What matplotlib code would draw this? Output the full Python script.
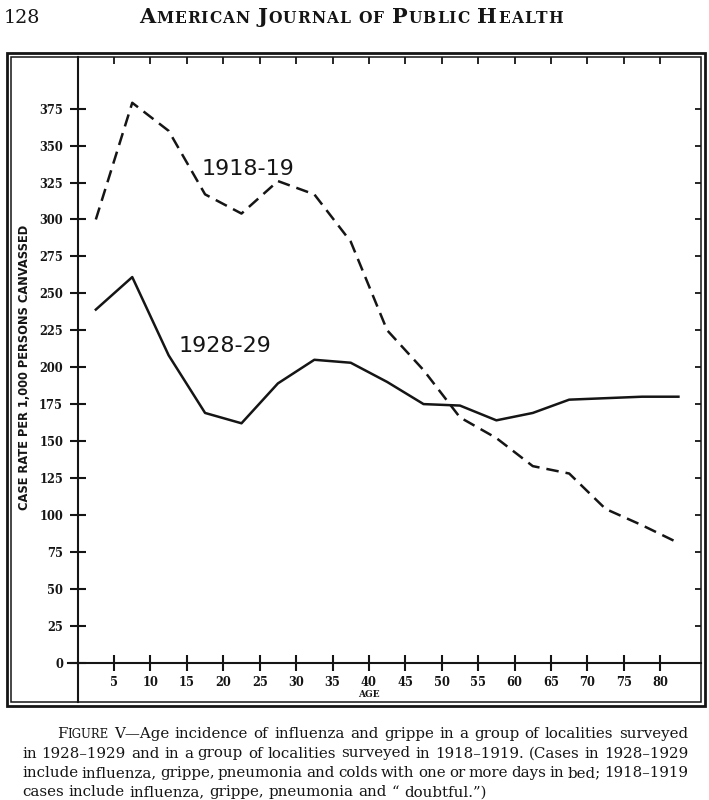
import matplotlib
matplotlib.use('Agg')
import matplotlib.pyplot as plt
from matplotlib.patches import Rectangle

# ---------------- data ----------------
ages = [2.5, 7.5, 12.5, 17.5, 22.5, 27.5, 32.5, 37.5, 42.5, 47.5,
        52.5, 57.5, 62.5, 67.5, 72.5, 77.5, 82.5]
rate_1918_19 = [300, 379, 360, 317, 304, 326, 317, 285, 225, 198,
                166, 152, 133, 128, 104, 93, 81]
rate_1928_29 = [239, 261, 208, 169, 162, 189, 205, 203, 190, 175,
                174, 164, 169, 178, 179, 180, 180]
series_labels = ['1918-19', '1928-29']
xticks = [5, 10, 15, 20, 25, 30, 35, 40, 45, 50, 55, 60, 65, 70, 75, 80]
xtick_labels = [str(v) for v in xticks]
yticks = [0, 25, 50, 75, 100, 125, 150, 175, 200, 225, 250, 275, 300, 325, 350, 375]
ytick_labels = [str(v) for v in yticks]
ylabel = 'CASE RATE PER 1,000 PERSONS CANVASSED'
xlabel = 'AGE'
page_number = '128'
header_words = ['AMERICAN', 'JOURNAL', 'OF', 'PUBLIC', 'HEALTH']
caption_lines = [
    'FIGURE V\u2014Age incidence of influenza and grippe in a group of localities surveyed',
    'in 1928\u20131929 and in a group of localities surveyed in 1918\u20131919.  (Cases in 1928\u20131929',
    'include influenza, grippe, pneumonia and colds with one or more days in bed; 1918\u20131919',
    'cases include influenza, grippe, pneumonia and \u201c doubtful.\u201d)',
]

# ---------------- figure ----------------
W, H, DPI = 709, 800, 100
INK = '#151515'
fig = plt.figure(figsize=(W / DPI, H / DPI), dpi=DPI)
fig.patch.set_facecolor('white')

ax = fig.add_axes([11 / W, 1 - 702 / H, 690 / W, 645 / H])
ax.set_xlim(-9.15, 85.6)
ax.set_ylim(-26.7, 410)
ax.set_facecolor('white')

ax.plot(ages, rate_1928_29, color=INK, lw=1.8)
ax.plot(ages, rate_1918_19, color=INK, lw=1.8, dashes=(5, 2.8))

ax.text(23.4, 330, series_labels[0], fontsize=16, family='DejaVu Sans',
        ha='center', va='baseline', color=INK)
ax.text(20.2, 210, series_labels[1], fontsize=16, family='DejaVu Sans',
        ha='center', va='baseline', color=INK)

for s in ['top', 'right']:
    ax.spines[s].set_visible(False)
ax.spines['left'].set_position(('data', 0))
ax.spines['bottom'].set_position(('data', 0))
ax.spines['bottom'].set_bounds(-1.3, 85.6)
for s in ['left', 'bottom']:
    ax.spines[s].set_linewidth(1.5)
    ax.spines[s].set_color(INK)

ax.set_xticks(xticks)
ax.set_xticklabels(xtick_labels, fontweight='bold', family='DejaVu Serif', fontsize=8.3)
ax.set_yticks(yticks)
ax.set_yticklabels(ytick_labels, fontweight='bold', family='DejaVu Serif', fontsize=8.3)
ax.tick_params(axis='both', direction='inout', length=11, width=1.5, color=INK,
               labelcolor=INK)
ax.tick_params(axis='y', pad=5)
ax.tick_params(axis='x', pad=4.5)

secx = ax.secondary_xaxis('top')
secx.set_xticks(xticks)
secx.tick_params(direction='in', length=5, width=1.3, color=INK, labeltop=False)
for sp in secx.spines.values():
    sp.set_visible(False)
secy = ax.secondary_yaxis('right')
secy.set_yticks(yticks[1:])
secy.tick_params(direction='in', length=4.5, width=1.3, color=INK, labelright=False)
for sp in secy.spines.values():
    sp.set_visible(False)

ax.text(-7.36, 200, ylabel, rotation=90, ha='center', va='center', fontsize=8.3,
        fontweight='bold', family='DejaVu Sans', color=INK)
ax.text(40, -21.3, xlabel, ha='center', va='center', fontsize=6.5,
        fontweight='bold', family='DejaVu Serif', color=INK)

# frames
ax.add_patch(Rectangle((0, 0), 1, 1, transform=ax.transAxes, fill=False,
                       lw=1.1, ec=INK, clip_on=False, zorder=5))
fig.add_artist(Rectangle((7 / W, 1 - 706 / H), 698 / W, 653 / H,
                         transform=fig.transFigure, fill=False, lw=2.0, ec=INK))

# ---------------- header & caption text ----------------
renderer = fig.canvas.get_renderer()


def make_text(txt, size, family, weight='normal'):
    t = fig.text(0, 0, txt, fontsize=size, family=family, fontweight=weight,
                 ha='left', va='baseline', color=INK)
    return t, t.get_window_extent(renderer).width


def set_px(t, x, y):
    t.set_position((x / W, 1 - y / H))


# page number
t, _ = make_text(page_number, 13.8, 'DejaVu Serif')
set_px(t, 4, 23)

# header in small caps, letter-spaced to span the original width
BIG, SMALL = 15.0, 11.2
letters = []
for wd in header_words:
    word = []
    for i, ch in enumerate(wd):
        size = BIG if (i == 0 and wd != 'OF') else SMALL
        word.append(make_text(ch, size, 'DejaVu Serif', 'bold'))
    letters.append(word)
x0, x1 = 139, 563
space = 0.35 * BIG * DPI / 72
lw_total = sum(w for word in letters for _, w in word)
n_letter_gaps = sum(len(word) - 1 for word in letters)
n_word_gaps = len(letters) - 1
track = (x1 - x0 - lw_total - n_word_gaps * space) / (n_letter_gaps + n_word_gaps)
x = x0
for word in letters:
    for j, (t, w) in enumerate(word):
        set_px(t, x, 23)
        x += w + (track if j < len(word) - 1 else 0)
    x += space + track

# caption, justified
CAP = 10.8
CAP_SMALL = 8.4
cap_left = [57, 22, 22, 22]
cap_base = [738, 757.5, 777, 796.3]
for li, line in enumerate(caption_lines):
    words = line.split(' ')
    objs = []
    for wd in words:
        if wd == '':
            continue
        if wd == 'FIGURE':
            parts = [make_text('F', CAP, 'DejaVu Serif'),
                     make_text('IGURE', CAP_SMALL, 'DejaVu Serif')]
        else:
            parts = [make_text(wd, CAP, 'DejaVu Serif')]
        objs.append(parts)
    widths = [sum(w for _, w in p) for p in objs]
    nat_space = 0.318 * CAP * DPI / 72
    if li < 3:
        gap = (688 - cap_left[li] - sum(widths)) / (len(objs) - 1)
    else:
        gap = nat_space
    x = cap_left[li]
    for parts, ww in zip(objs, widths):
        for t, w in parts:
            set_px(t, x, cap_base[li])
            x += w
        x += gap

fig.savefig('out.png', dpi=DPI, facecolor='white')
